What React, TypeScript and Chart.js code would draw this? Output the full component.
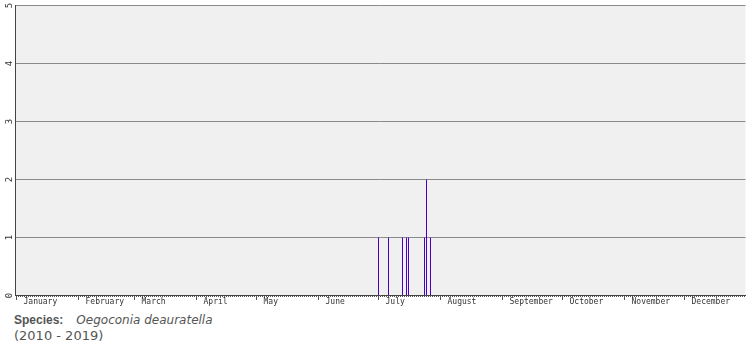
import React, { useEffect, useRef } from "react";
import { Chart, registerables } from "chart.js";

Chart.register(...registerables);

// ---- data ----
const monthNames = [
  "January", "February", "March", "April", "May", "June",
  "July", "August", "September", "October", "November", "December",
];
const monthLengths = [31, 28, 31, 30, 31, 30, 31, 31, 30, 31, 30, 31];
const yTickValues = [0, 1, 2, 3, 4, 5];
const recordDates = ["07-01", "07-06", "07-13", "07-15", "07-16", "07-24", "07-25", "07-27"];
const recordCounts = [1, 1, 1, 1, 1, 1, 2, 1];
const speciesLabel = "Species:";
const speciesName = "Oegoconia deauratella";
const yearRange = "(2010 - 2019)";

// ---- derived ----
const monthStarts: number[] = [];
monthLengths.forEach((len, i) => {
  monthStarts.push(i === 0 ? 0 : monthStarts[i - 1] + monthLengths[i - 1]);
});
const daysInYear = monthLengths.reduce((a, b) => a + b, 0);
const dayOfYear = (md: string) => {
  const [m, d] = md.split("-").map(Number);
  return monthStarts[m - 1] + (d - 1);
};
const LABEL_SHIFT = 3.5; // month names start a few days into their month
const dayTicks = Array.from({ length: daysInYear }, (_, i) => i);
const labelTicks = monthStarts.map((s) => s + LABEL_SHIFT);
const monthStartSet = new Set(monthStarts);

const xFont = { family: "'DejaVu Sans Mono', monospace", size: 8 };
const yFont = { family: "'DejaVu Sans Mono', monospace", size: 9 };

const bgPlugin = {
  id: "plotBg",
  beforeDraw(chart: any) {
    const { ctx, chartArea } = chart;
    if (!chartArea) return;
    ctx.save();
    ctx.fillStyle = "#f0f0f0";
    ctx.fillRect(chartArea.left, chartArea.top, chartArea.right - chartArea.left, chartArea.bottom - chartArea.top);
    ctx.restore();
  },
};

export default function App() {
  const canvasRef = useRef<HTMLCanvasElement | null>(null);

  useEffect(() => {
    if (!canvasRef.current) return;
    const chart = new Chart(canvasRef.current, {
      type: "bar",
      data: {
        datasets: [
          {
            data: recordDates.map((d, i) => ({ x: dayOfYear(d), y: recordCounts[i] })),
            backgroundColor: "#4a00c4",
            borderWidth: 0,
            barThickness: 1,
            inflateAmount: 0,
          } as any,
        ],
      },
      options: {
        animation: false,
        responsive: true,
        maintainAspectRatio: false,
        layout: { padding: { left: 0, right: 9.5, top: 5.5, bottom: 0 } },
        plugins: { legend: { display: false }, tooltip: { enabled: false } },
        scales: {
          x: {
            type: "linear",
            min: -0.5,
            max: daysInYear - 0.5,
            offset: false,
            afterBuildTicks: (scale: any) => {
              scale.ticks = [...dayTicks, ...labelTicks].sort((a, b) => a - b).map((v) => ({ value: v }));
            },
            afterFit: (scale: any) => {
              scale.height = 14.5;
              scale.paddingLeft = 0;
              scale.paddingRight = 0;
            },
            ticks: {
              autoSkip: false,
              maxRotation: 0,
              minRotation: 0,
              align: "start",
              padding: -2.5,
              color: "#333",
              font: xFont,
              callback: (value: any) => {
                const i = labelTicks.indexOf(Number(value));
                return i >= 0 ? monthNames[i] : "";
              },
            },
            grid: {
              offset: false,
              drawOnChartArea: false,
              drawTicks: true,
              tickLength: 4.5,
              tickColor: (ctx: any) => {
                const v = ctx.tick ? ctx.tick.value : 0;
                return Number.isInteger(v) ? "#555" : "transparent";
              },
              tickBorderDash: (ctx: any) => {
                const v = ctx.tick ? ctx.tick.value : 0;
                return monthStartSet.has(v) ? [] : [1, 20];
              },
            },
            border: { color: "#444", width: 1 },
          },
          y: {
            type: "linear",
            min: 0,
            max: 5,
            afterBuildTicks: (scale: any) => {
              scale.ticks = yTickValues.map((v) => ({ value: v }));
            },
            afterFit: (scale: any) => {
              scale.width = 15.5;
              scale.paddingTop = 0;
              scale.paddingBottom = 0;
            },
            ticks: {
              minRotation: 90,
              maxRotation: 90,
              crossAlign: "near",
              padding: 6,
              labelOffset: -2.7,
              color: "#333",
              font: yFont,
            },
            grid: {
              drawTicks: false,
              color: (ctx: any) => (ctx.tick && ctx.tick.value === 0 ? "transparent" : "#8a8a8a"),
            },
            border: { color: "#444", width: 1 },
          },
        },
      } as any,
      plugins: [bgPlugin],
    });
    return () => chart.destroy();
  }, []);

  return (
    <>
      <div style={{ position: "absolute", left: 0, top: 0, width: 755, height: 310 }}>
        <canvas ref={canvasRef} />
      </div>
      <div
        style={{
          position: "absolute",
          left: 14,
          top: 312,
          fontFamily: "'DejaVu Sans', Verdana, sans-serif",
          fontSize: 12,
          lineHeight: "16px",
          color: "#555",
          whiteSpace: "pre",
        }}
      >
        <span style={{ fontWeight: "bold", fontFamily: "'Liberation Sans', Arial, sans-serif" }}>{speciesLabel}</span>
        <span style={{ fontStyle: "italic", marginLeft: 13 }}>{speciesName}</span>
        <br />
        <span style={{ fontSize: 13 }}>{yearRange}</span>
      </div>
    </>
  );
}
